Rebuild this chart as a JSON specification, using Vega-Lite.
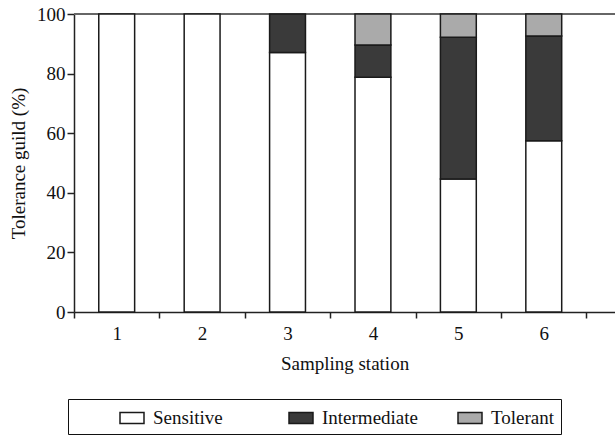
{
  "$schema": "https://vega.github.io/schema/vega-lite/v6.json",
  "width": 541,
  "height": 298,
  "autosize": {"type": "none"},
  "padding": {"left": 74, "top": 14, "right": 0, "bottom": 124},
  "background": "white",
  "datasets": {
    "guilds": [
      {"guild": "Sensitive", "rank": 1},
      {"guild": "Intermediate", "rank": 2},
      {"guild": "Tolerant", "rank": 3}
    ]
  },
  "data": {
    "values": [
      {"station": "1", "guild": "Sensitive", "percent": 100},
      {"station": "2", "guild": "Sensitive", "percent": 100},
      {"station": "3", "guild": "Sensitive", "percent": 87.1},
      {"station": "3", "guild": "Intermediate", "percent": 12.9},
      {"station": "4", "guild": "Sensitive", "percent": 78.8},
      {"station": "4", "guild": "Intermediate", "percent": 10.8},
      {"station": "4", "guild": "Tolerant", "percent": 10.4},
      {"station": "5", "guild": "Sensitive", "percent": 44.6},
      {"station": "5", "guild": "Intermediate", "percent": 47.6},
      {"station": "5", "guild": "Tolerant", "percent": 7.8},
      {"station": "6", "guild": "Sensitive", "percent": 57.5},
      {"station": "6", "guild": "Intermediate", "percent": 35.1},
      {"station": "6", "guild": "Tolerant", "percent": 7.4}
    ]
  },
  "layer": [
    {
      "mark": {"type": "rule", "color": "#666666", "strokeWidth": 1.2},
      "encoding": {"y": {"datum": 100, "type": "quantitative"}}
    },
    {
      "transform": [
        {"lookup": "guild", "from": {"data": {"name": "guilds"}, "key": "guild", "fields": ["rank"]}}
      ],
      "mark": {"type": "bar", "width": {"band": 0.42}, "stroke": "#1a1a1a", "strokeWidth": 1.5},
      "encoding": {
        "x": {
          "field": "station",
          "type": "nominal",
          "scale": {"paddingInner": 0, "paddingOuter": 0.167, "align": 0},
          "axis": {
            "title": "Sampling station",
            "labelAngle": 0,
            "tickBand": "extent",
            "tickSize": 6,
            "labelPadding": 6,
            "titlePadding": 11
          }
        },
        "y": {
          "field": "percent",
          "type": "quantitative",
          "stack": "zero",
          "scale": {"domain": [0, 100], "nice": false},
          "axis": {
            "title": "Tolerance guild (%)",
            "values": [0, 20, 40, 60, 80, 100],
            "tickSize": 7,
            "labelPadding": 2,
            "titlePadding": 8
          }
        },
        "color": {
          "field": "guild",
          "type": "nominal",
          "sort": ["Sensitive", "Intermediate", "Tolerant"],
          "scale": {
            "domain": ["Sensitive", "Intermediate", "Tolerant"],
            "range": ["#ffffff", "#3a3a3a", "#aaaaaa"]
          },
          "legend": {
            "orient": "none",
            "legendX": -6,
            "legendY": 385,
            "direction": "horizontal",
            "columns": 3,
            "gridAlign": "all",
            "title": " ",
            "titleOrient": "left",
            "titlePadding": 45,
            "symbolType": "M-1,-0.46H1V0.46H-1Z",
            "symbolSize": 576,
            "symbolStrokeColor": "#1a1a1a",
            "symbolStrokeWidth": 1.5,
            "symbolOpacity": 1,
            "labelOffset": 8,
            "columnPadding": 36,
            "padding": 6,
            "strokeColor": "#111111"
          }
        },
        "order": {"field": "rank", "type": "quantitative", "sort": "ascending"}
      }
    }
  ],
  "config": {
    "view": {"stroke": null},
    "font": "Liberation Serif",
    "axis": {
      "grid": false,
      "labelFont": "Liberation Serif",
      "labelFontSize": 19,
      "labelColor": "#111111",
      "titleFont": "Liberation Serif",
      "titleFontSize": 19,
      "titleFontWeight": "normal",
      "titleColor": "#111111",
      "domainColor": "#222222",
      "domainWidth": 1.5,
      "tickColor": "#222222",
      "tickWidth": 1.5
    },
    "legend": {
      "labelFont": "Liberation Serif",
      "labelFontSize": 19,
      "labelColor": "#111111",
      "titleFont": "Liberation Serif",
      "titleFontSize": 19
    }
  }
}
